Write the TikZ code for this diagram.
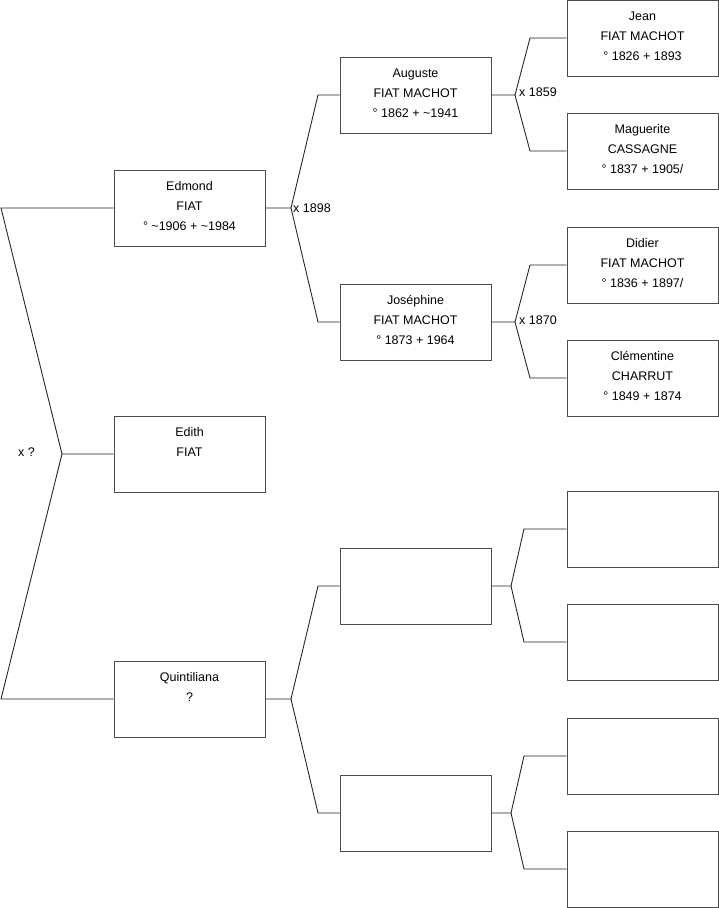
\documentclass[tikz,border=0pt]{standalone}
\usepackage{fontspec}
\setmainfont{Liberation Sans}
\begin{document}
\begin{tikzpicture}[x=1pt,y=-1pt,
  pbox/.style={draw=black!70, line width=1pt, minimum width=151pt, minimum height=76pt, inner sep=0pt, fill=white},
  ptext/.style={anchor=north, inner sep=0pt, align=center, font=\fontsize{12.5}{20}\selectfont, yshift=-6pt},
  conn/.style={draw=black!85, line width=0.9pt},
  lab/.style={anchor=west, inner sep=0pt, font=\fontsize{12.5}{15}\selectfont}]
\useasboundingbox (0,0) rectangle (719,908);
\newcommand{\fs}{\rule{0pt}{14.5pt}}
% generation 1
\node[pbox] (edmond) at (189.5,208) {};
\node[pbox] (edith) at (189.5,454) {};
\node[pbox] (quint) at (189.5,699) {};
% generation 2
\node[pbox] (auguste) at (415.5,95) {};
\node[pbox] (josephine) at (415.5,322) {};
\node[pbox] (q1) at (415.5,586) {};
\node[pbox] (q2) at (415.5,813) {};
% generation 3
\node[pbox] (jean) at (642.5,38) {};
\node[pbox] (maguerite) at (642.5,151) {};
\node[pbox] (didier) at (642.5,265) {};
\node[pbox] (clementine) at (642.5,378) {};
\node[pbox] (q11) at (642.5,529) {};
\node[pbox] (q12) at (642.5,642) {};
\node[pbox] (q21) at (642.5,756) {};
\node[pbox] (q22) at (642.5,869) {};
% texts
\node[ptext] (edmond-t) at (edmond.north) {\fs Edmond\\FIAT\\° \char`~1906 + \char`~1984};
\node[ptext] (edith-t) at (edith.north) {\fs Edith\\FIAT};
\node[ptext] (quint-t) at (quint.north) {\fs Quintiliana\\?};
\node[ptext] (auguste-t) at (auguste.north) {\fs Auguste\\FIAT MACHOT\\° 1862 + \char`~1941};
\node[ptext] (josephine-t) at (josephine.north) {\fs Joséphine\\FIAT MACHOT\\° 1873 + 1964};
\node[ptext] (jean-t) at (jean.north) {\fs Jean\\FIAT MACHOT\\° 1826 + 1893};
\node[ptext] (maguerite-t) at (maguerite.north) {\fs Maguerite\\CASSAGNE\\° 1837 + 1905/};
\node[ptext] (didier-t) at (didier.north) {\fs Didier\\FIAT MACHOT\\° 1836 + 1897/};
\node[ptext] (clementine-t) at (clementine.north) {\fs Clémentine\\CHARRUT\\° 1849 + 1874};
% junction coordinates
\coordinate (a0) at (1,208);
\coordinate (j0) at (62,454);
\coordinate (b0) at (1,699);
\coordinate (j1) at (291,208);
\coordinate (a1) at (318,95);
\coordinate (b1) at (318,322);
\coordinate (j2) at (291,699);
\coordinate (a2) at (318,586);
\coordinate (b2) at (318,813);
\coordinate (j3) at (515,95);
\coordinate (a3) at (530,38);
\coordinate (b3) at (530,151);
\coordinate (j4) at (515,322);
\coordinate (a4) at (530,265);
\coordinate (b4) at (530,378);
\coordinate (j5) at (511,586);
\coordinate (a5) at (524,529);
\coordinate (b5) at (524,642);
\coordinate (j6) at (511,813);
\coordinate (a6) at (524,756);
\coordinate (b6) at (524,869);
% connectors
\draw[conn] (edmond.west) -- (a0) -- (j0) -- (edith.west);
\draw[conn] (j0) -- (b0) -- (quint.west);
\draw[conn] (edmond.east) -- (j1) -- (a1) -- (auguste.west);
\draw[conn] (j1) -- (b1) -- (josephine.west);
\draw[conn] (quint.east) -- (j2) -- (a2) -- (q1.west);
\draw[conn] (j2) -- (b2) -- (q2.west);
\draw[conn] (auguste.east) -- (j3) -- (a3) -- (jean.west);
\draw[conn] (j3) -- (b3) -- (maguerite.west);
\draw[conn] (josephine.east) -- (j4) -- (a4) -- (didier.west);
\draw[conn] (j4) -- (b4) -- (clementine.west);
\draw[conn] (q1.east) -- (j5) -- (a5) -- (q11.west);
\draw[conn] (j5) -- (b5) -- (q12.west);
\draw[conn] (q2.east) -- (j6) -- (a6) -- (q21.west);
\draw[conn] (j6) -- (b6) -- (q22.west);
% marriage labels
\node[lab] (m0) at (18,452) {x ?};
\node[lab] (m1) at (293,208) {x 1898};
\node[lab] (m2) at (519,92) {x 1859};
\node[lab] (m3) at (519,320) {x 1870};
\end{tikzpicture}
\end{document}
